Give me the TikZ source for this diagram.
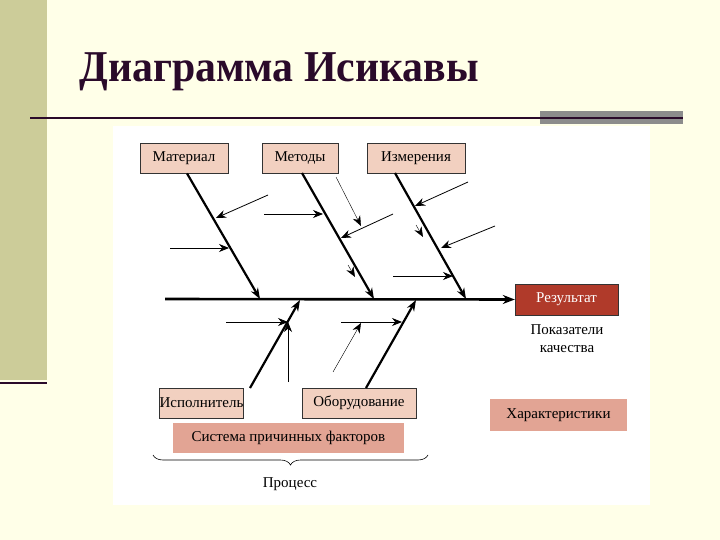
\documentclass[tikz,border=0pt]{standalone}
\usepackage{fontspec}
\setmainfont{Liberation Serif}
\usetikzlibrary{arrows.meta,decorations.pathreplacing}
\definecolor{cream}{HTML}{FFFFE8}
\definecolor{olive}{HTML}{CCCC99}
\definecolor{titlec}{HTML}{2A0A2A}
\definecolor{boxc}{HTML}{F2D0C0}
\definecolor{boxd}{HTML}{E2A494}
\definecolor{resc}{HTML}{B03A2A}
\tikzset{
  txt/.style={font=\fontsize{15}{15}\selectfont},
  lbl/.style={txt,draw=black!80,line width=0.8pt,fill=boxc,inner sep=0pt},
  bone/.style={line width=2.2pt,-{Stealth[length=11pt,width=8pt]}},
  twig/.style={line width=0.8pt,-{Stealth[length=10pt,width=8pt]}},
}
\begin{document}
\begin{tikzpicture}[x=1pt,y=-1pt]
\useasboundingbox (0,0) rectangle (720,540);
\fill[cream] (0,0) rectangle (720,540);
\fill[olive] (0,0) rectangle (47,380);
\draw[titlec,line width=2pt] (0,383) -- (47,383);
\node[anchor=west,text=titlec,font=\fontsize{44}{44}\selectfont\bfseries,xscale=0.95] (title) at (76,72) {Диаграмма Исикавы};
\fill[black!45] (540,111) rectangle (683,124);
\draw[titlec,line width=2pt] (30,118) -- (683,118);
\fill[white] (113,126) rectangle (650,505);
% top boxes
\node[lbl,minimum width=88pt,minimum height=30pt] (mat) at (184,158) {Материал};
\node[lbl,minimum width=76pt,minimum height=30pt] (met) at (300,158) {Методы};
\node[lbl,minimum width=98pt,minimum height=30pt] (izm) at (416,158) {Измерения};
\node[txt,draw=black!80,fill=resc,text=white,minimum width=103pt,minimum height=31pt] (res) at (566.5,299.5) {Результат};
\coordinate (s0) at (165,299);
\draw[line width=2.6pt,-{Stealth[length=12pt,width=9pt]}] (s0) -- (res.west);
% bones
\coordinate (m1) at (260,299); \coordinate (m2) at (374,299); \coordinate (m3) at (466,299);
\draw[bone] (mat.south)++(3,0) -- (m1);
\draw[bone] (302,173) -- (m2);
\draw[bone] (395,173) -- (m3);
% twigs top
\draw[twig] (268,195) -- (216,218);
\draw[twig] (170,248) -- (229,248);
\draw[twig] (264,214) -- (323,214);
\draw[line width=0.4pt,-{Stealth[length=10pt,width=8pt]}] (336,177) -- (361,226);
\draw[twig] (393,214) -- (341,238);
\draw[-{Stealth[length=10pt,width=8pt]}] (348,265) -- (355,277);
\draw[twig] (468,182) -- (415,206);
\draw[twig] (495,226) -- (441,248);
\draw[twig] (393,276) -- (453,276);
\draw[-{Stealth[length=10pt,width=8pt]}] (416,225) -- (423,237);
% bottom
\node[lbl,minimum width=79pt,minimum height=30pt] (isp) at (201.5,403) {Исполнитель};
\node[lbl,minimum width=114pt,minimum height=30pt] (obo) at (359,403) {Оборудование};
\draw[bone] (250,388) -- (300,300);
\draw[bone] (366,388) -- (416,300);
\draw[twig] (226,322) -- (288,322);
\draw[twig] (288,382) -- (288,322);
\draw[twig] (341,322) -- (402,322);
\draw[line width=0.4pt,-{Stealth[length=10pt,width=8pt]}] (333,372) -- (361,323);
\node[txt,fill=boxd,minimum width=231pt,minimum height=30pt,inner sep=0pt] (sys) at (288.5,438) {Система причинных факторов};
\draw[decorate,decoration={brace,mirror,amplitude=10pt},line width=0.6pt] (153,455) -- (428,455) node[midway] (bm) {};
\node[txt] (proc) at (290,484) {Процесс};
\node[txt,align=center,font=\fontsize{15}{18}\selectfont] (pok) at (567,339) {Показатели\\качества};
\node[txt,fill=boxd,minimum width=137pt,minimum height=32pt,inner sep=0pt] (har) at (558.5,415) {Характеристики};
\end{tikzpicture}
\end{document}
